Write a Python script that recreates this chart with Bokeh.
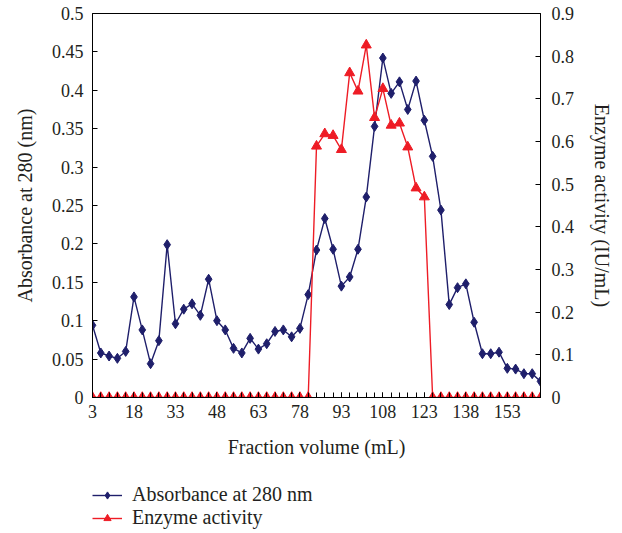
from bokeh.plotting import figure
from bokeh.layouts import column
from bokeh.models import (Range1d, LinearAxis, FixedTicker, Legend, LegendItem,
                          ColumnDataSource)
from bokeh.embed import file_html
from bokeh.resources import INLINE

# ---------------- data ----------------
volume = [3, 6, 9, 12, 15, 18, 21, 24, 27, 30,
          33, 36, 39, 42, 45, 48, 51, 54, 57, 60,
          63, 66, 69, 72, 75, 78, 81, 84, 87, 90,
          93, 96, 99, 102, 105, 108, 111, 114, 117, 120,
          123, 126, 129, 132, 135, 138, 141, 144, 147, 150,
          153, 156, 159, 162, 165]

absorbance = [0.094, 0.058, 0.054, 0.051, 0.060, 0.131, 0.088, 0.044, 0.074, 0.199,
              0.096, 0.115, 0.122, 0.107, 0.154, 0.100, 0.088, 0.064, 0.058, 0.077,
              0.063, 0.070, 0.086, 0.088, 0.079, 0.090, 0.134, 0.192, 0.233, 0.193,
              0.145, 0.157, 0.193, 0.261, 0.353, 0.442, 0.396, 0.411, 0.375, 0.412,
              0.361, 0.314, 0.244, 0.121, 0.143, 0.148, 0.098, 0.057, 0.057, 0.059,
              0.038, 0.037, 0.031, 0.031, 0.021]

activity = [0, 0, 0, 0, 0, 0, 0, 0, 0, 0,
            0, 0, 0, 0, 0, 0, 0, 0, 0, 0,
            0, 0, 0, 0, 0, 0, 0, 0.589, 0.618, 0.614,
            0.581, 0.761, 0.718, 0.826, 0.656, 0.724, 0.638, 0.643, 0.587, 0.491,
            0.470, 0, 0, 0, 0, 0, 0, 0, 0, 0,
            0, 0, 0, 0, 0]

x_major = [3, 18, 33, 48, 63, 78, 93, 108, 123, 138, 153]
left_ticks = [0, 0.05, 0.1, 0.15, 0.2, 0.25, 0.3, 0.35, 0.4, 0.45, 0.5]
right_ticks = [0, 0.1, 0.2, 0.3, 0.4, 0.5, 0.6, 0.7, 0.8, 0.9]

FONT = "Liberation Serif"
TXT = "#231f20"
BLUE = "#1f1f6b"
RED = "#ee1c25"

src = ColumnDataSource(dict(x=volume, a=absorbance, e=activity))

p = figure(width=616, height=470, output_backend="svg", toolbar_location=None,
           x_range=Range1d(3, 165), y_range=Range1d(0, 0.5),
           min_border_left=92, min_border_right=74, min_border_top=13,
           min_border_bottom=73)
p.extra_y_ranges = {"act": Range1d(0, 0.9)}
p.grid.visible = False
p.outline_line_color = "black"
p.outline_line_width = 1
p.background_fill_color = "white"
p.border_fill_color = "white"

# x axis
xa = p.xaxis[0]
xa.ticker = FixedTicker(ticks=x_major, minor_ticks=volume)
xa.axis_label = "Fraction volume (mL)"
xa.major_tick_in = 5
xa.major_tick_out = 0
xa.minor_tick_in = 5
xa.minor_tick_out = 0
xa.major_label_standoff = 7
xa.axis_label_standoff = 15

# left axis
ya = p.yaxis[0]
ya.ticker = FixedTicker(ticks=left_ticks)
ya.axis_label = "Absorbance at 280 (nm)"
ya.major_tick_in = 5
ya.major_tick_out = 0
ya.minor_tick_line_color = None
ya.major_label_standoff = 9
ya.axis_label_standoff = 13

# right axis
ra = LinearAxis(y_range_name="act", ticker=FixedTicker(ticks=right_ticks),
                axis_label="Enzyme activity (IU/mL)")
ra.major_tick_in = 5
ra.major_tick_out = 0
ra.minor_tick_line_color = None
ra.major_label_standoff = 11
ra.axis_label_standoff = 14
p.add_layout(ra, "right")

for ax in [xa, ya, ra]:
    ax.axis_line_color = "black"
    ax.major_tick_line_color = "black"
    ax.major_label_text_font = FONT
    ax.major_label_text_font_size = "18px"
    ax.major_label_text_color = TXT
    ax.axis_label_text_font = FONT
    ax.axis_label_text_font_size = "20px"
    ax.axis_label_text_font_style = "normal"
    ax.axis_label_text_color = TXT

# series
p.line("x", "a", source=src, line_color=BLUE, line_width=1.4)
p.scatter("x", "a", source=src, marker="diamond", size=10,
          fill_color=BLUE, line_color=BLUE)
p.line("x", "e", source=src, y_range_name="act", line_color=RED, line_width=1.4)
p.scatter("x", "e", source=src, y_range_name="act", marker="triangle", size=10,
          fill_color=RED, line_color=RED)

# ---------------- legend panel ----------------
q = figure(width=616, height=60, output_backend="svg", toolbar_location=None,
           x_range=Range1d(0, 1), y_range=Range1d(0, 1),
           min_border=0, min_border_left=0, min_border_right=0,
           min_border_top=0, min_border_bottom=0)
q.axis.visible = False
q.grid.visible = False
q.outline_line_color = None
q.border_fill_color = "white"
q.background_fill_color = "white"
# placeholder point lies outside the visible range; only the legend swatches show
off = dict(x=[-10], y=[-10])
ql1 = q.line(x="x", y="y", source=ColumnDataSource(off), line_color=BLUE, line_width=1.4)
qs1 = q.scatter(x="x", y="y", source=ColumnDataSource(off), marker="diamond", size=10,
                fill_color=BLUE, line_color=BLUE)
ql2 = q.line(x="x", y="y", source=ColumnDataSource(off), line_color=RED, line_width=1.4)
qs2 = q.scatter(x="x", y="y", source=ColumnDataSource(off), marker="triangle", size=9,
                fill_color=RED, line_color=RED)

legend = Legend(items=[LegendItem(label="Absorbance at 280 nm", renderers=[ql1, qs1]),
                       LegendItem(label="Enzyme activity", renderers=[ql2, qs2])],
                location=(0, 1), orientation="vertical")
legend.border_line_color = None
legend.background_fill_alpha = 0
legend.padding = 0
legend.margin = 0
legend.spacing = 0
legend.glyph_width = 30
legend.glyph_height = 18
legend.label_height = 18
legend.label_standoff = 10
legend.label_text_font = FONT
legend.label_text_font_size = "20px"
legend.label_text_color = TXT
q.add_layout(legend, "center")

open("out.html", "w").write(file_html(column(p, q, spacing=0), INLINE))
